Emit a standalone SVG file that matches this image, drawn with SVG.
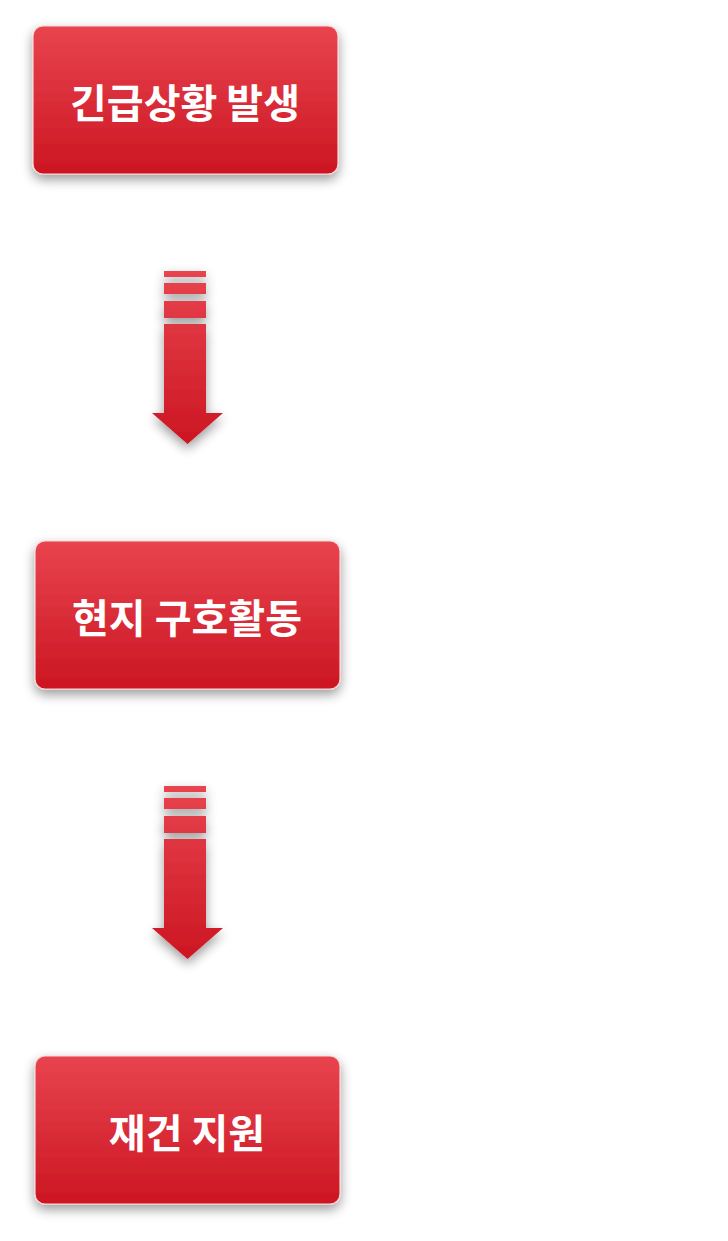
<svg xmlns="http://www.w3.org/2000/svg" width="728" height="1241" viewBox="0 0 728 1241">
<defs>
<linearGradient id="g" x1="0" y1="0" x2="0" y2="1">
<stop offset="0" stop-color="#e8444f"/>
<stop offset="1" stop-color="#cc1622"/>
</linearGradient>
<linearGradient id="ga" gradientUnits="userSpaceOnUse" x1="0" y1="271" x2="0" y2="444">
<stop offset="0" stop-color="#e8444f"/>
<stop offset="1" stop-color="#cc1622"/>
</linearGradient>
<filter id="sh" x="-30%" y="-30%" width="160%" height="170%">
<feGaussianBlur in="SourceAlpha" stdDeviation="6"/>
<feOffset dy="5" result="b"/>
<feComponentTransfer><feFuncA type="linear" slope="0.4"/></feComponentTransfer>
<feMerge><feMergeNode/><feMergeNode in="SourceGraphic"/></feMerge>
</filter>
<g id="arrow">
<rect x="164" y="271" width="42" height="6"/>
<rect x="164" y="283" width="42" height="11"/>
<rect x="164" y="301" width="42" height="17"/>
<path d="M164 324 H206 V413 H223 L187.5 444 L152 413 H164 Z"/>
</g>
</defs>
<style>
.box{fill:url(#g);stroke:#f6d6d4;stroke-width:1.2;filter:url(#sh)}
.lbl{font-family:"Noto Sans CJK KR","Noto Sans",sans-serif;font-weight:700;font-size:40px;fill:#fff;text-anchor:middle}
.arr{fill:url(#ga);filter:url(#sh)}
</style>
<rect width="728" height="1241" fill="#fff"/>
<g id="connectors">
<use href="#arrow" class="arr"/>
<use href="#arrow" class="arr" transform="translate(0,515)"/>
</g>
<g id="node1">
<rect class="box" x="33" y="26" width="305" height="148" rx="10"/>
<text class="lbl" x="185" y="118">긴급상황 발생</text>
</g>
<g id="node2">
<rect class="box" x="35" y="541" width="305" height="148" rx="10"/>
<text class="lbl" x="187" y="633">현지 구호활동</text>
</g>
<g id="node3">
<rect class="box" x="35" y="1056" width="305" height="148" rx="10"/>
<text class="lbl" x="187" y="1148">재건 지원</text>
</g>
</svg>
